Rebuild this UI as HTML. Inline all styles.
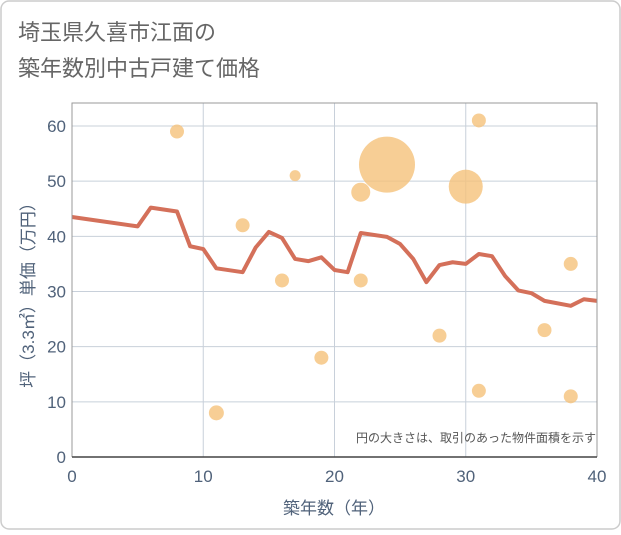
<!DOCTYPE html>
<html><head><meta charset="utf-8"><style>
body{margin:0;background:#fff;}
svg text{font-family:"Liberation Sans","Noto Sans CJK JP",sans-serif;}
</style></head><body>
<svg width="621" height="530" viewBox="0 0 621 530" xmlns="http://www.w3.org/2000/svg">
<rect x="1" y="1" width="619" height="528" rx="8" fill="#fff" stroke="#ccc" stroke-width="1.5"/>
<text x="18" y="40" font-size="22" fill="#666">埼玉県久喜市江面の</text>
<text x="18" y="76" font-size="22" fill="#666">築年数別中古戸建て価格</text>
<g id="grid"></g>
<g id="bubbles"></g>
<g id="line"></g>
<g id="axes"></g>
<text x="596" y="442" font-size="12" fill="#555" text-anchor="end">円の大きさは、取引のあった物件面積を示す</text>
<text x="334" y="514" font-size="17" fill="#50627a" text-anchor="middle">築年数（年）</text>
<text transform="translate(34,291) rotate(-90)" font-size="17" fill="#50627a" text-anchor="middle">坪（3.3㎡）単価（万円）</text>
</svg>
<script>
const xTicks=[0,10,20,30,40];
const yTicks=[0,10,20,30,40,50,60];
const lineX=[0,5,6,8,9,10,11,13,14,15,16,17,18,19,20,21,22,24,25,26,27,28,29,30,31,32,33,34,35,36,38,39,40];
const lineY=[43.5,41.8,45.2,44.5,38.2,37.7,34.2,33.5,38,40.8,39.7,35.9,35.5,36.2,33.9,33.5,40.6,39.9,38.6,35.9,31.7,34.8,35.3,35,36.8,36.4,32.8,30.2,29.7,28.3,27.4,28.6,28.3];
const bubX=[8,11,13,16,17,19,22,22,24,28,30,31,31,36,38,38];
const bubY=[59,8,42,32,51,18,48,32,53,22,49,61,12,23,35,11];
const bubR=[7,7.5,7,7,5.5,7,9.5,7,28,7,17,7,7,7,7,7];
const NS="http://www.w3.org/2000/svg";
const x0=72,x1=597,y0=457,y1=126;
const sx=v=>x0+(v-0)/40*(x1-x0);
const sy=v=>y0-(v-0)/60*(y0-y1);
function mk(t,a,p){const e=document.createElementNS(NS,t);for(const k in a)e.setAttribute(k,a[k]);p.appendChild(e);return e;}
const grid=document.getElementById('grid'),axes=document.getElementById('axes');
xTicks.forEach(t=>{const l=mk('line',{x1:sx(t),x2:sx(t),y1:103,y2:y0,stroke:'#c8d0da'},grid);


const tx=mk('text',{x:sx(t),y:y0+25,'font-size':17,fill:'#50627a','text-anchor':'middle'},axes);tx.textContent=t;

});
yTicks.forEach(t=>{const l=mk('line',{x1:x0,x2:x1,y1:sy(t),y2:sy(t),stroke:'#c8d0da'},grid);


const tx=mk('text',{x:x0-6,y:sy(t)+6,'font-size':17,fill:'#50627a','text-anchor':'end'},axes);tx.textContent=t;

});
const box=mk('path',{d:'M'+x0+' '+y0+' V103 H'+x1+' V'+y0,fill:'none',stroke:'#999'},axes);


const bl=mk('line',{x1:x0,x2:x1,y1:y0,y2:y0,stroke:'#444','stroke-width':1.5},axes);


const bg=document.getElementById('bubbles');
bubX.forEach((v,i)=>{const c=mk('circle',{cx:sx(v),cy:sy(bubY[i]),r:bubR[i],fill:'#f5c27a','fill-opacity':0.8},bg);

});
const pl=mk('polyline',{points:lineX.map((v,i)=>sx(v)+','+sy(lineY[i])).join(' '),fill:'none',stroke:'#d4705a','stroke-width':4,'stroke-linejoin':'round'},document.getElementById('line'));


</script>
</body></html>
